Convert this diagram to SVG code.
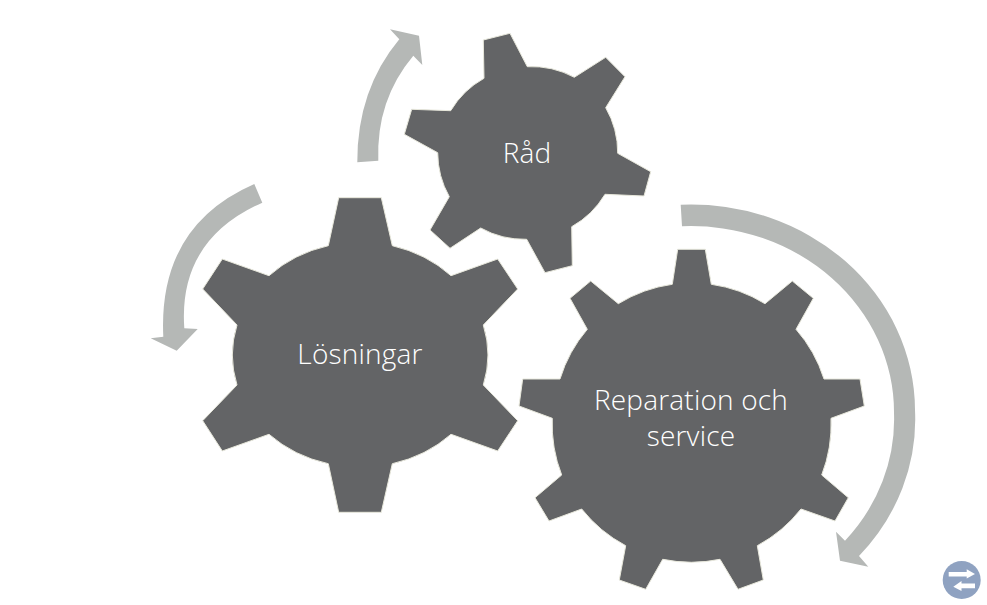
<svg xmlns="http://www.w3.org/2000/svg" width="987" height="605" viewBox="0 0 987 605">
<style>
.gear{fill:#636466;stroke:#e8e8dc;stroke-width:1;stroke-linejoin:miter}
.arrow{fill:#b5b8b6}
.label{font-family:"Open Sans","Lato","Liberation Sans",sans-serif;font-weight:300;fill:#fff;text-anchor:middle;font-size:28px;letter-spacing:.2px}
</style>
<rect width="987" height="605" fill="#fff"/>
<g id="connectors">
<path class="arrow" d="M680.7 204.7A224 206 0 0 1 915 410A224 206 0 0 1 859 556L868.3 566.7L840 560.7L836 531.7L845 540.7A203 186 0 0 0 894 413A203 186 0 0 0 682 226.3Z"/>
<path class="arrow" d="M357.3 162.3Q357 90 399.3 39.3L390 29.3L419 35.7L422.3 65L413.3 55.7Q376 100 378.3 160.7Z"/>
<path class="arrow" d="M254.3 184Q158 226 163.3 336.7L150.7 338.3L176.7 350.7L197.7 329L184.3 328.3Q178 240 262.3 202.7Z"/>
</g>
<g id="node-rad">
<path class="gear" d="M483.3 40L510 33.3L527.3 66.7A90 90 0 0 1 574.3 77.3L605.7 57.3L625 76.7L605.7 107.7A90 90 0 0 1 617.7 153.3L650.7 171.7L644 196L605 194.3A90 90 0 0 1 571.7 226.7L572.3 265.7L545 272.7L526.7 239.3A90 90 0 0 1 480.7 228L450 248.3L430 230L449.3 196.7A90 90 0 0 1 437.7 152.7L404.3 134.3L411.7 109.3L450.7 110.7A90 90 0 0 1 484 78.3Z"/>
<text class="label" x="527" y="162.5">Råd</text>
</g>
<g id="node-losningar">
<path class="gear" d="M338.7 197.7H381.3L392.3 245.7A128 113 0 0 1 451 275.7L497.7 259L517.7 289L483.3 325A128 113 0 0 1 483.3 385L517.7 420.7L497.7 451L451 434.3A128 113 0 0 1 392.3 463.7L381.3 512.3H338.7L328.3 463.7A128 113 0 0 1 269 434.3L222.3 451L202.7 420.7L237 385A128 113 0 0 1 237 325L202.7 289L222.3 259L269 275.7A128 113 0 0 1 328.3 245.7Z"/>
<text class="label" x="360" y="364">Lösningar</text>
</g>
<g id="node-reparation">
<path class="gear" d="M677.7 249.3H705.3L711.3 284.3A140 140 0 0 1 765 303.7L792.3 281L813.3 298.3L796 329.3A140 140 0 0 1 824 379H860L864.3 406L831 418.3A140 140 0 0 1 821.7 475L848.3 497.7L835 521L801 509A140 140 0 0 1 757.3 545.7L763.3 580L738 589.3L720 559.3A140 140 0 0 1 662.7 559.3L645.7 589.3L619.3 580L625.7 545.7A140 140 0 0 1 581.7 509L549 521L535 497.7L561.7 475A140 140 0 0 1 552.3 418.3L519 406L522.7 379H560A140 140 0 0 1 587.3 329.3L570 298.3L590.7 281L618.3 303.7A140 140 0 0 1 672.3 284.3Z"/>
<text class="label" x="691" y="410">Reparation och</text>
<text class="label" x="691" y="445.5">service</text>
</g>
<g id="logo">
<circle cx="961.7" cy="580" r="19" fill="#8fa2c1"/>
<path fill="#fff" d="M948.7 572H966.7V569.3L975 574L966.7 578.5V576.6H948.7Z"/>
<path fill="#fff" d="M975 583.5H961.5V581L953.3 586.7L961.5 591V588.3H975Z"/>
</g>
</svg>
